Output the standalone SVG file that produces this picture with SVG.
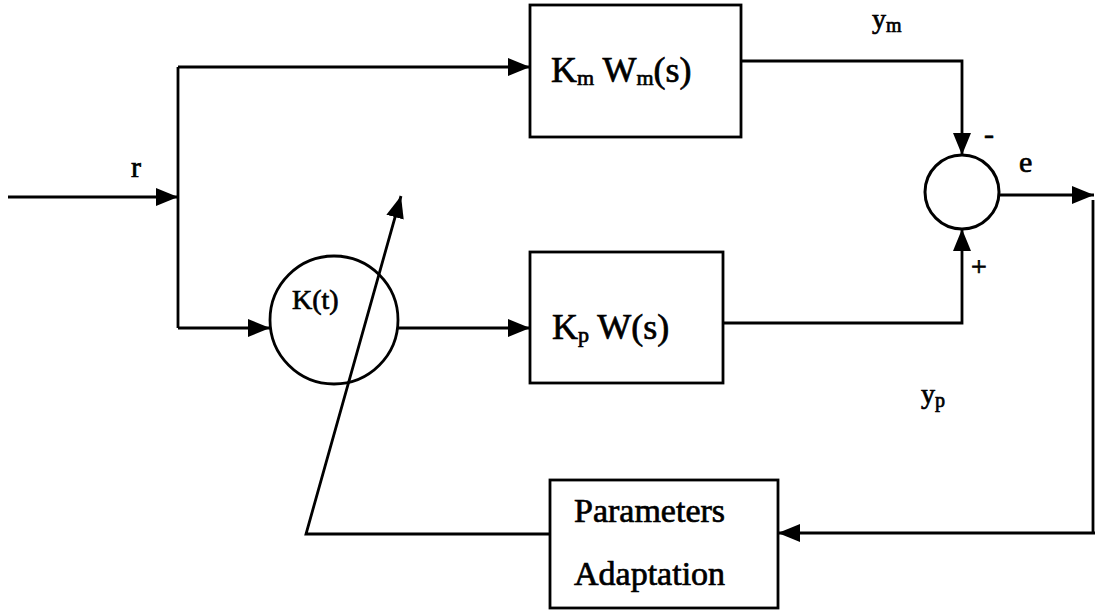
<svg xmlns="http://www.w3.org/2000/svg" width="1095" height="613" viewBox="0 0 1095 613">
<style>
.ln{fill:none;stroke:#000;stroke-width:2.8;stroke-linejoin:miter}
.arr{marker-end:url(#ah)}
.box{fill:#fff;stroke:#000;stroke-width:2.8}
.t{font-family:"Liberation Serif","Times New Roman",serif;fill:#000;stroke:#000;stroke-width:0.7}
</style>
<defs>
<marker id="ah" markerUnits="userSpaceOnUse" markerWidth="24" markerHeight="20" refX="22" refY="9" orient="auto">
<path d="M0,0 L22,9 L0,18 Z" fill="#000"/>
</marker>
</defs>
<rect width="1095" height="613" fill="#fff"/>
<g id="connectors">
<path class="ln arr" d="M8,197 H178"/>
<path class="ln" d="M178,67 V328"/>
<path class="ln arr" d="M178,67 H530"/>
<path class="ln arr" d="M178,328 H270"/>
<path class="ln arr" d="M398,328 H530"/>
<path class="ln arr" d="M741,61 H962 V155"/>
<path class="ln arr" d="M723,323 H962 V229"/>
<path class="ln arr" d="M999,195 H1094"/>
<path class="ln" d="M1093,200 V533"/>
<path class="ln arr" d="M1095,533 H778"/>
<path class="ln arr" d="M550,534 H306 L401,196"/>
</g>
<g id="node-km">
<rect class="box" x="530" y="5" width="211" height="132"/>
<text class="t" x="551" y="82" font-size="36">K<tspan font-size="22" dy="3">m</tspan><tspan dy="-3"> W</tspan><tspan font-size="22" dy="3">m</tspan><tspan dy="-3">(s)</tspan></text>
</g>
<g id="node-kp">
<rect class="box" x="530" y="252" width="193" height="131"/>
<text class="t" x="552" y="339" font-size="36">K<tspan font-size="22" dy="3">p</tspan><tspan dy="-3"> W(s)</tspan></text>
</g>
<g id="node-kt">
<circle cx="334" cy="320" r="64" fill="none" stroke="#000" stroke-width="2.8"/>
<text class="t" x="292" y="309" font-size="28">K(t)</text>
</g>
<g id="node-sum">
<circle cx="962" cy="192" r="37" fill="#fff" stroke="#000" stroke-width="3"/>
<text class="t" x="984" y="144" font-size="30">-</text>
<text class="t" x="971" y="276" font-size="28">+</text>
</g>
<g id="node-adapt">
<rect class="box" x="550" y="480" width="228" height="128"/>
<text class="t" x="574" y="522" font-size="34">Parameters</text>
<text class="t" x="574" y="585" font-size="34">Adaptation</text>
</g>
<g id="labels">
<text class="t" x="131" y="177" font-size="30">r</text>
<text class="t" x="1019" y="172" font-size="30">e</text>
<text class="t" x="872" y="28" font-size="28">y<tspan font-size="20" dy="4">m</tspan></text>
<text class="t" x="921" y="403" font-size="28">y<tspan font-size="20" dy="4">p</tspan></text>
</g>
</svg>
